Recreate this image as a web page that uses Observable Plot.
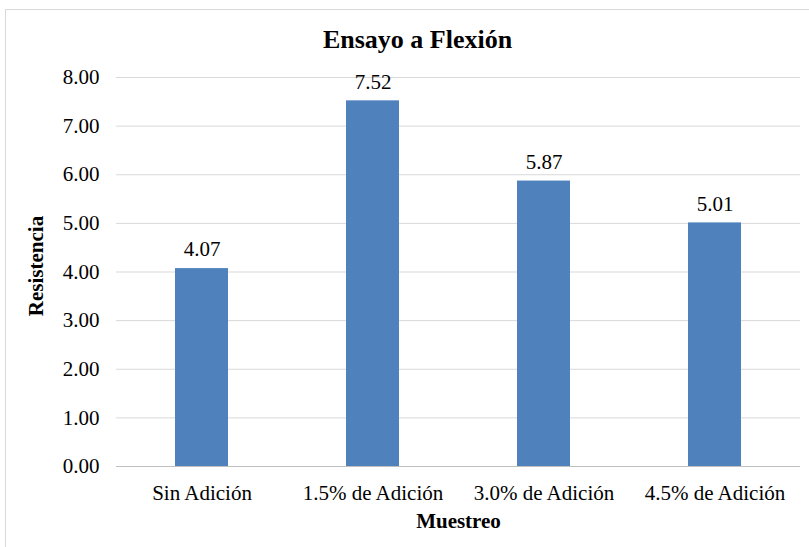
<!DOCTYPE html>
<html><head><meta charset="utf-8">
<script src="https://cdn.jsdelivr.net/npm/d3@7"></script>
<script src="https://cdn.jsdelivr.net/npm/@observablehq/plot@0.6"></script>
<style>
body{margin:0;background:#fff;}
#wrap{position:relative;width:809px;height:547px;overflow:hidden;}
#frame{position:absolute;left:5px;top:9px;width:830px;height:560px;border:1px solid #d9d9d9;}
#chart{position:absolute;left:0;top:0;}
#chart svg, #chart svg text{font-family:"Liberation Serif","Times New Roman",serif !important;}
</style></head>
<body>
<div id="wrap"><div id="frame"></div><div id="chart"></div></div>
<script>
const categories = ["Sin Adición","1.5% de Adición","3.0% de Adición","4.5% de Adición"];
const values = [4.07, 7.52, 5.87, 5.01];
const yTicks = [0,1,2,3,4,5,6,7,8];
const title = "Ensayo a Flexión";
const xTitle = "Muestreo";
const yTitle = "Resistencia";

const data = categories.map((c,i)=>({cat:c, val:values[i]}));

const chart = Plot.plot({
  width: 809, height: 547,
  marginTop: 77, marginBottom: 81, marginLeft: 116, marginRight: 9,
  style: {fontFamily: "Liberation Serif, serif", fontSize: "21px", background: "transparent", color: "#000"},
  x: {domain: categories, paddingInner: 0.69, paddingOuter: 0.345},
  y: {domain: [0, 8]},
  marks: [
    Plot.gridY(yTicks, {stroke: "#d9d9d9", strokeOpacity: 1}),
    Plot.ruleY([0], {stroke: "#bfbfbf"}),
    Plot.barY(data, {x: "cat", y: "val", fill: "#4F81BD"}),
    Plot.text(data, {x: "cat", y: "val", text: d => d.val.toFixed(2), dy: -19, fontSize: 21}),
    Plot.axisY(yTicks, {tickSize: 0, tickPadding: 17, tickFormat: d => d.toFixed(2), label: null, fontSize: 21}),
    Plot.axisX({tickSize: 0, tickPadding: 19, label: null, fontSize: 21}),
    Plot.text([title], {frameAnchor: "top", textAnchor: "middle", lineAnchor: "middle", dx: -41, dy: -38, fontSize: 26, fontWeight: "bold"}),
    Plot.text([xTitle], {frameAnchor: "bottom", textAnchor: "middle", lineAnchor: "middle", dy: 55, fontSize: 21, fontWeight: "bold"}),
    Plot.text([yTitle], {frameAnchor: "left", textAnchor: "middle", lineAnchor: "middle", dx: -80, dy: -6, rotate: -90, fontSize: 21, fontWeight: "bold"})
  ]
});
document.getElementById("chart").appendChild(chart);
</script>
</body></html>
